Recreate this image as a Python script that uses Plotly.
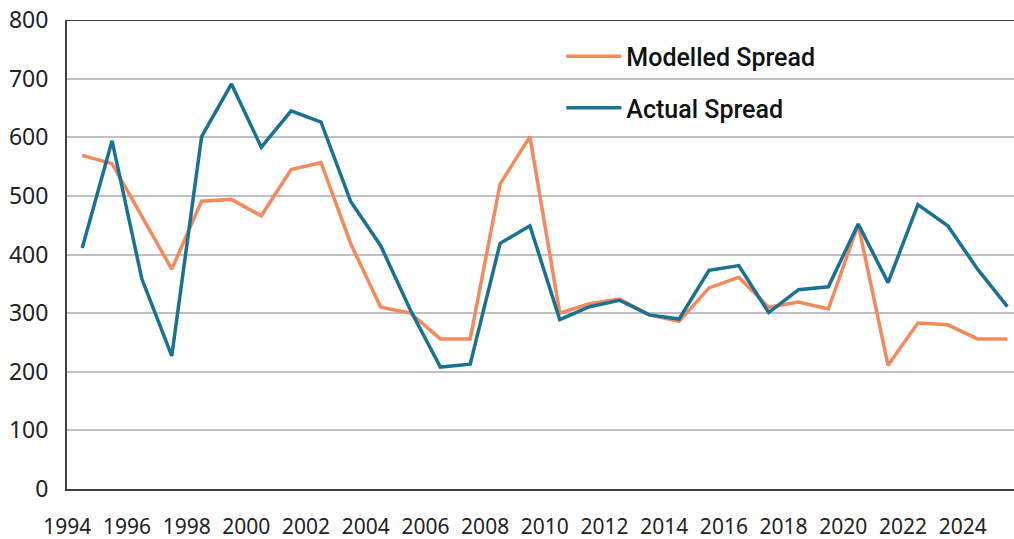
import plotly.graph_objects as go

# Annual observations, 1994-2025 (bps)
years = list(range(1994, 2026))

modelled_spread = [569, 555, 465, 375, 491, 494, 466, 545, 557, 418,
                   310, 300, 256, 256, 520, 601, 300, 316, 324, 297,
                   286, 343, 361, 310, 319, 307, 451, 211, 283, 280,
                   256, 256]

actual_spread = [411, 594, 358, 227, 601, 691, 583, 645, 626, 490,
                 415, 305, 208, 213, 419, 449, 289, 311, 322, 297,
                 290, 373, 381, 301, 340, 345, 452, 352, 485, 449,
                 375, 311]

label_years = list(range(1994, 2025, 2))
y_ticks = list(range(0, 900, 100))

ORANGE = "#F28A5E"
TEAL = "#1A7190"

fig = go.Figure()

fig.add_trace(go.Scatter(
    x=years, y=modelled_spread, mode="lines", name="Modelled Spread",
    legendgroup="m", line=dict(color=ORANGE, width=3.5)
))
fig.add_trace(go.Scatter(
    x=years, y=actual_spread, mode="lines", name="Actual Spread",
    legendgroup="a", line=dict(color=TEAL, width=3.5)
))

fig.update_layout(
    width=1014, height=539,
    margin=dict(l=67, r=0, t=20, b=50),
    paper_bgcolor="white", plot_bgcolor="white",
    font=dict(family="Noto Sans", size=20, color="#222222"),
    showlegend=True,
    legend=dict(
        x=0.522, y=0.971, xanchor="left", yanchor="top",
        bgcolor="rgba(0,0,0,0)",
        font=dict(family="Roboto", size=25, color="#111111", weight=500),
        tracegroupgap=16, itemwidth=55,
    ),
)

# labels sit on the category boundaries, points in the middle of each year
fig.update_xaxes(
    range=[1993.49, 2025.22],
    tickmode="array",
    tickvals=[y - 0.5 for y in label_years],
    ticktext=[str(y) for y in label_years],
    tickfont=dict(size=21),
    showgrid=False, zeroline=False, automargin=False,
    showline=True, linecolor="#404040", linewidth=2,
    ticks="", ticklabelstandoff=18,
)
fig.update_yaxes(
    range=[0, 800],
    tickmode="array", tickvals=y_ticks,
    tickfont=dict(size=23),
    showgrid=True, gridcolor="#C0C0C0", gridwidth=1.5,
    zeroline=False, automargin=False,
    showline=True, linecolor="#404040", linewidth=2, mirror=False,
    ticks="", ticklabelstandoff=12,
)

# dark top border at 800
fig.add_hline(y=800, line=dict(color="#404040", width=2))

fig.write_html(
    "out.html",
    config={"displayModeBar": False},
    post_script="document.body.style.margin='0';",
)
